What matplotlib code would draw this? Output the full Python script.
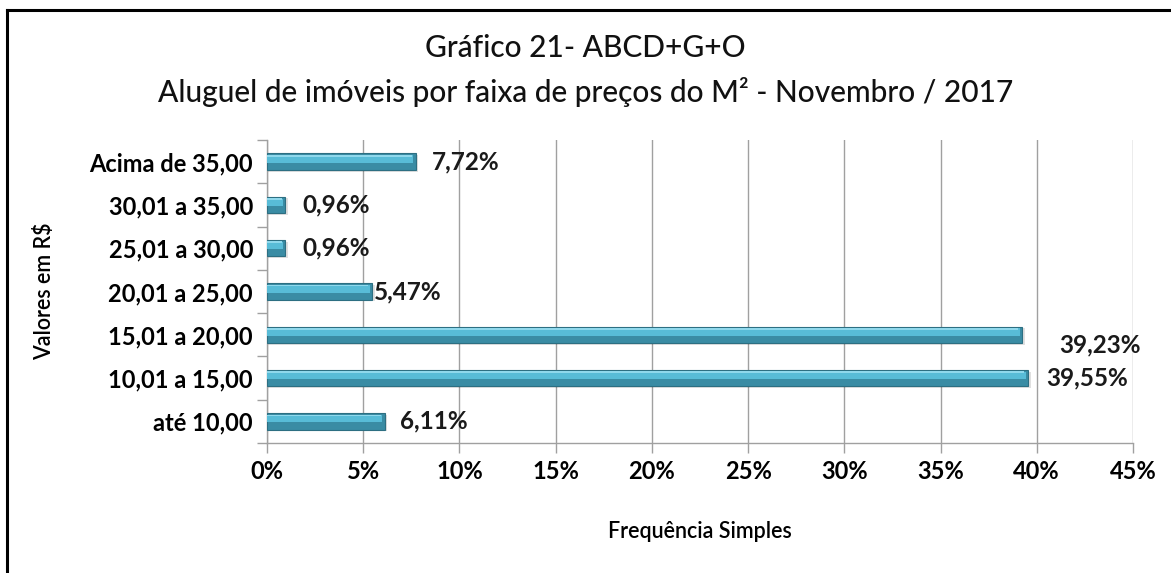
import matplotlib
matplotlib.use("Agg")
import matplotlib.pyplot as plt
from matplotlib.lines import Line2D
from matplotlib.ticker import MultipleLocator, FuncFormatter

categories = ["até 10,00", "10,01 a 15,00", "15,01 a 20,00", "20,01 a 25,00",
              "25,01 a 30,00", "30,01 a 35,00", "Acima de 35,00"]
values = [6.11, 39.55, 39.23, 5.47, 0.96, 0.96, 7.72]
labels = ["6,11%", "39,55%", "39,23%", "5,47%", "0,96%", "0,96%", "7,72%"]
title = "Gráfico 21- ABCD+G+O\nAluguel de imóveis por faixa de preços do M² - Novembro / 2017"

plt.rcParams['font.family'] = ['Lato', 'DejaVu Sans']

fig = plt.figure(figsize=(11.71, 5.73), dpi=100)
ax = fig.add_axes([0.228, 0.227, 0.9675 - 0.228, 0.7557 - 0.227])

y = list(range(len(categories)))
h = 0.38
# shadow
ax.barh([v - 0.04 for v in y], [v + 0.15 for v in values], height=h, color='#000000', alpha=0.12, zorder=2)
# main bar (darker)
ax.barh(y, values, height=h, color='#3a8ca4', edgecolor='#2d6f82', linewidth=0.8, zorder=3)
# highlight top portion
ax.barh([v + h * 0.16 for v in y], [max(v - 0.12, 0) for v in values], height=h * 0.45,
        left=0.0, color='#58bcd7', linewidth=0, zorder=4)
ax.barh([v + h * 0.36 for v in y], [max(v - 0.2, 0) for v in values], height=h * 0.1,
        left=0.0, color='#8fd8ec', linewidth=0, zorder=5)

offsets = [(11, 0), (13, 0), (27, -7), (1, 0), (12, 0), (12, 0), (12, 0)]
for yi, v, lab, off in zip(y, values, labels, offsets):
    ax.annotate(lab, (v, yi), xytext=off, textcoords='offset points',
                va='center', ha='left', fontsize=17.5, fontweight='bold', color='#1a1a1a', zorder=6)

ax.set_xlim(0, 45)
ax.set_ylim(-0.5, len(categories) - 0.5)
ax.xaxis.set_major_locator(MultipleLocator(5))
ax.xaxis.set_major_formatter(FuncFormatter(lambda x, p: f"{int(round(x))}%"))
ax.grid(axis='x', color='#a0a0a0', linewidth=1, zorder=0)
ax.set_axisbelow(True)

ax.set_yticks(y)
ax.set_yticklabels(categories, fontsize=17, fontweight='bold')
ax.set_yticks([i + 0.5 for i in range(-1, len(categories))], minor=True)
ax.tick_params(axis='y', which='major', length=0, pad=10)
ax.tick_params(axis='y', which='minor', length=7, color='#a0a0a0', width=1)
ax.tick_params(axis='x', which='major', length=7, color='#a0a0a0', width=1,
               labelsize=17, pad=5)
for lbl in ax.get_xticklabels():
    lbl.set_fontweight('bold')

for s in ['top', 'right']:
    ax.spines[s].set_visible(False)
for s in ['left', 'bottom']:
    ax.spines[s].set_color('#a0a0a0')
    ax.spines[s].set_linewidth(1)

ax.set_xlabel("Frequência Simples", fontsize=15.5, fontweight='semibold', labelpad=28)
ax.set_ylabel("Valores em R$", fontsize=15.5, fontweight='semibold')
ax.yaxis.set_label_coords(-0.245, 0.5)

fig.text(0.5, 0.877, title, ha='center', va='center', fontsize=21.5, fontweight='medium',
         linespacing=1.6, color='#111111')

fig.add_artist(Line2D([6.5 / 1171, 1.0], [1 - 9.5 / 573, 1 - 9.5 / 573],
                      transform=fig.transFigure, color='black', linewidth=2.2))
fig.add_artist(Line2D([6.5 / 1171, 6.5 / 1171], [0.0, 1 - 9.5 / 573],
                      transform=fig.transFigure, color='black', linewidth=2.2))

fig.savefig("out.png", dpi=100)
